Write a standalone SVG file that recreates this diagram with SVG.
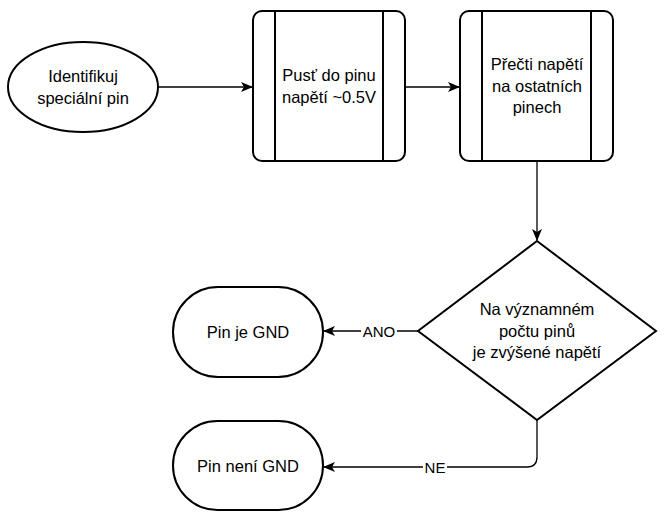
<svg xmlns="http://www.w3.org/2000/svg" width="669" height="516" viewBox="0 0 669 516">
<style>
.n{fill:#fff;stroke:#000;stroke-width:2}
.l{stroke:#000;stroke-width:2;fill:none}
.t{font-family:"Liberation Sans",Arial,sans-serif;font-size:16.5px;fill:#000;text-anchor:middle}
.e{stroke:#000;stroke-width:1.3;fill:none}
.lb{font-family:"Liberation Sans",Arial,sans-serif;font-size:15px;fill:#000;text-anchor:middle}
</style>
<defs>
<marker id="a" viewBox="0 0 12 10" refX="11" refY="5" markerWidth="12" markerHeight="10" markerUnits="userSpaceOnUse" orient="auto">
<path d="M0,0 L12,5 L0,10 L3,5 Z" fill="#000"/>
</marker>
</defs>
<g id="connectors">
<path class="e" d="M158,87 H252" marker-end="url(#a)"/>
<path class="e" d="M405,87 H459" marker-end="url(#a)"/>
<path class="e" d="M537,161 V240" marker-end="url(#a)"/>
<path class="e" d="M418,331 H324" marker-end="url(#a)"/>
<path class="e" d="M537,420 V457 Q537,467 527,467 H324" marker-end="url(#a)"/>
<rect x="361" y="322" width="36" height="18" fill="#fff"/>
<text class="lb" x="379" y="336.5">ANO</text>
<rect x="423" y="458" width="24" height="18" fill="#fff"/>
<text class="lb" x="435" y="472.5">NE</text>
</g>
<g id="start">
<ellipse class="n" cx="83" cy="87" rx="75" ry="45"/>
<text class="t" x="83" y="82">Identifikuj</text>
<text class="t" x="83" y="103.5">speciální pin</text>
</g>
<g id="step1">
<rect class="n" x="253" y="11" width="152" height="150" rx="9"/>
<path class="l" d="M275,11 V161 M383,11 V161"/>
<text class="t" x="329" y="81">Pusť do pinu</text>
<text class="t" x="329" y="102.5">napětí ~0.5V</text>
</g>
<g id="step2">
<rect class="n" x="460" y="11" width="153" height="150" rx="9"/>
<path class="l" d="M482,11 V161 M591,11 V161"/>
<text class="t" x="537" y="70">Přečti napětí</text>
<text class="t" x="537" y="91.5">na ostatních</text>
<text class="t" x="537" y="113">pinech</text>
</g>
<g id="decision">
<path class="n" d="M537,241 L656,331 L537,420 L418,331 Z"/>
<text class="t" x="537" y="315">Na významném</text>
<text class="t" x="537" y="336.5">počtu pinů</text>
<text class="t" x="537" y="358">je zvýšené napětí</text>
</g>
<g id="gnd">
<rect class="n" x="173" y="287" width="150" height="90" rx="45"/>
<text class="t" x="248" y="337.5">Pin je GND</text>
</g>
<g id="notgnd">
<rect class="n" x="173" y="421" width="150" height="89" rx="44.5"/>
<text class="t" x="248" y="471.5">Pin není GND</text>
</g>
</svg>
